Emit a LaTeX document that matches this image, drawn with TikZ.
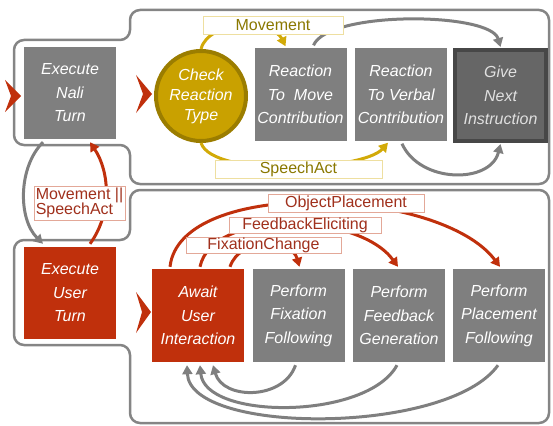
\documentclass[tikz,border=0pt]{standalone}
\usepackage{fontspec}
\setmainfont{Liberation Sans}
\usetikzlibrary{arrows.meta,calc}
\definecolor{boxgray}{HTML}{7F7F7F}
\definecolor{darkgray}{HTML}{666666}
\definecolor{darkborder}{HTML}{474747}
\definecolor{framegray}{HTML}{858585}
\definecolor{nred}{HTML}{C0300C}
\definecolor{lred}{HTML}{A0301C}
\definecolor{lredb}{HTML}{E3A898}
\definecolor{gold}{HTML}{C9A100}
\definecolor{goldb}{HTML}{9B7D00}
\definecolor{goldarrow}{HTML}{D2AA08}
\definecolor{goldtext}{HTML}{8A7800}
\definecolor{goldlb}{HTML}{EEDFA0}
\tikzset{
  box/.style={rectangle, minimum width=92pt, minimum height=92pt, inner sep=0pt,
    align=center, font=\fontsize{16}{23.5}\selectfont\itshape, text=white, fill=boxgray},
  redbox/.style={box, fill=nred},
  frame/.style={draw=framegray, line width=2.5pt, rounded corners=10pt},
  chev/.style={fill=nred},
  lab/.style={rectangle, fill=white, inner sep=0pt, minimum height=18pt,
    font=\fontsize{16}{15}\selectfont},
  goldlab/.style={lab, draw=goldlb, text=goldtext, line width=0.8pt},
  redlab/.style={lab, draw=lredb, text=lred, line width=0.8pt},
  tip/.style={-{Triangle[length=9pt,width=10pt]}},
  garc/.style={tip, draw=boxgray, line width=3pt},
  goldarc/.style={tip, draw=goldarrow, line width=3pt},
  redarc/.style={tip, draw=nred, line width=3pt},
}
\begin{document}
\begin{tikzpicture}[x=1pt,y=-1pt]
\useasboundingbox (0,0) rectangle (553,425);
% containers
\draw[frame] (130,10) -- (549,10) -- (549,184) -- (130,184) -- (130,145) -- (14,145) -- (14,40) -- (130,40) -- cycle;
\draw[frame] (130,190) -- (549,190) -- (549,423) -- (130,423) -- (130,345) -- (14,345) -- (14,240) -- (130,240) -- cycle;
% chevrons
\fill[chev] (5,80) -- (21,96) -- (5,112) -- (11,96) -- cycle;
\fill[chev] (136,75) -- (152,94) -- (136,113) -- (143,94) -- cycle;
\fill[chev] (136,292) -- (151,312) -- (136,333) -- (142,312) -- cycle;
% nodes
\node[box] (enn) at (70,93) {Execute\\Nali\\Turn};
\node[circle, fill=gold, draw=goldb, line width=4pt, minimum size=90pt, inner sep=0pt,
  align=center, font=\fontsize{16}{20}\selectfont\itshape, text=white] (crt) at (201,96) {Check\\Reaction\\Type};
\node[box] (rtm) at (300.5,94.5) {Reaction\\To\ \ Move\\Contribution};
\node[box] (rtv) at (401,94.5) {Reaction\\To Verbal\\Contribution};
\node[box, fill=darkgray, draw=darkborder, line width=4pt, minimum width=91pt, minimum height=91pt,
  text=white!88!black] (gni) at (500.5,95.5) {Give\\Next\\Instruction};
\node[redbox] (eut) at (70,293) {Execute\\User\\Turn};
\node[redbox, minimum height=93pt] (aui) at (198,315.5) {Await\\User\\Interaction};
\node[box, minimum height=93pt] (pff) at (298.5,315.5) {Perform\\Fixation\\Following};
\node[box, minimum height=93pt] (pfg) at (399,315.5) {Perform\\Feedback\\Generation};
\node[box, minimum height=93pt] (ppf) at (499,315.5) {Perform\\Placement\\Following};
% upper connectors
\draw[goldarc] (crt.north) .. controls +(8,-30) and +(-12,-25) .. ($(rtm.north)+(-15,-2)$);
\draw[garc] ($(rtm.north)+(13,-3)$) .. controls +(15,-35) and +(-10,-35) .. ($(gni.north)+(0,-1)$);
\draw[garc] ($(rtv.south)+(1,3)$) .. controls +(18,40) and +(-10,40) .. ($(gni.south)+(0,1)$);
\draw[goldarc] (crt.south) .. controls +(12,35) and +(-25,28) .. ($(rtv.south)+(-13,2)$);
% left connectors
\draw[garc] ($(enn.south)+(-27,3)$) .. controls +(-25,25) and +(-25,-25) .. ($(eut.north)+(-27,-3)$);
\draw[redarc] ($(eut.north)+(20,-3)$) .. controls +(22,-30) and +(20,30) .. ($(enn.south)+(20,3)$);
% lower connectors
\draw[redarc] ($(aui.north)+(32,-2)$) .. controls +(10,-30) and +(-8,-28) .. ($(pff.north)+(1,-2)$);
\draw[redarc] ($(aui.north)+(2,-2)$) .. controls +(12,-58) and +(-40,-55) .. ($(pfg.north)+(-1,-2)$);
\draw[redarc] ($(aui.north)+(-28,-2)$) .. controls +(10,-90) and +(-60,-80) .. ($(ppf.north)+(1,-2)$);
\draw[garc] ($(pff.south)+(-3,3)$) .. controls +(-12,35) and +(10,35) .. ($(aui.south)+(15,3)$);
\draw[garc] ($(pfg.south)+(-2,3)$) .. controls +(-30,55) and +(5,55) .. ($(aui.south)+(2,3)$);
\draw[garc] ($(ppf.south)+(-1,3)$) .. controls +(-50,70) and +(3,70) .. ($(aui.south)+(-11,3)$);
% labels
\node[goldlab, minimum width=140pt] (lmov) at (273,25) {Movement};
\node[goldlab, minimum width=167pt] (lsp) at (298.5,169.5) {SpeechAct};
\node[redlab, minimum width=91pt, minimum height=34pt, align=left] (lms) at (79.5,203) {Movement ||\\SpeechAct};
\node[redlab, minimum width=156pt] (lobj) at (346,203) {ObjectPlacement};
\node[redlab, minimum width=152pt, minimum height=16pt] (lfeed) at (305,225) {FeedbackEliciting};
\node[redlab, minimum width=155pt, minimum height=16pt] (lfix) at (263.5,245) {FixationChange};
\end{tikzpicture}
\end{document}
